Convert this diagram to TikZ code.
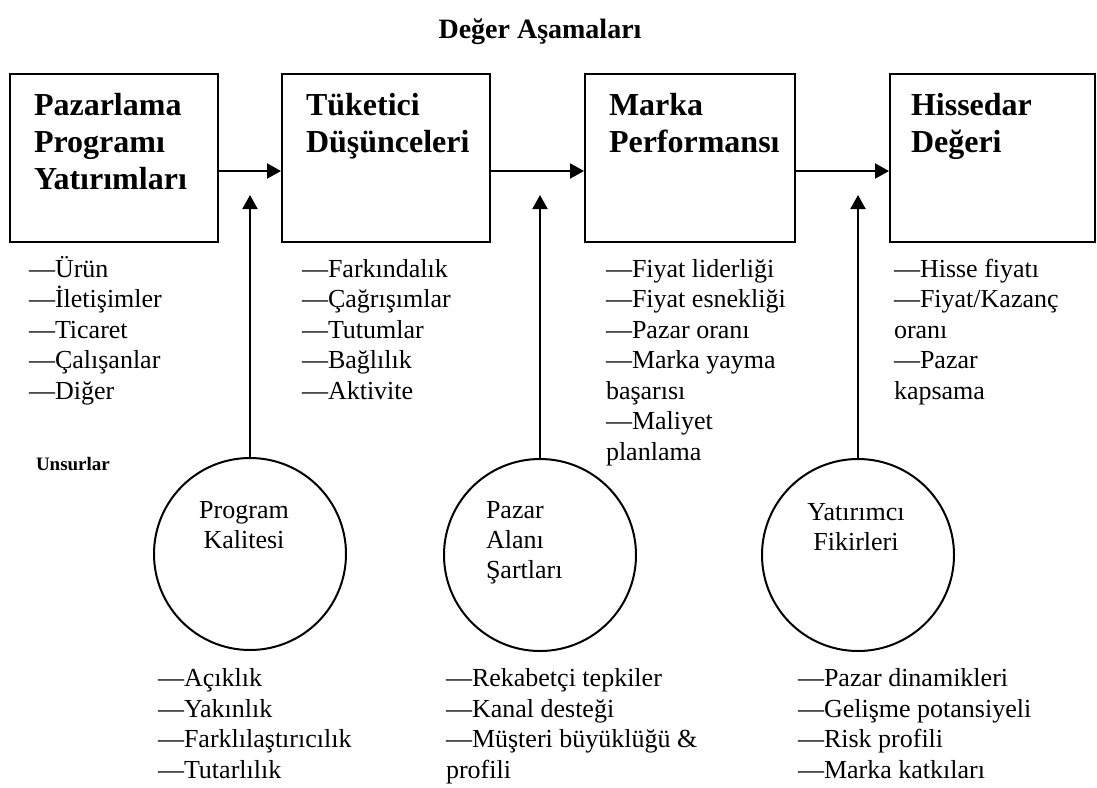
\documentclass[tikz,border=0pt]{standalone}
\usepackage{fontspec}
\setmainfont{Liberation Serif}
\usetikzlibrary{arrows.meta}
\begin{document}
\begin{tikzpicture}[x=0.5pt, y=-0.5pt, line width=1pt, >={Triangle[length=7pt,width=7.5pt]},
    stage/.style={draw, minimum width=#1, minimum height=84pt, inner sep=0pt},
    stagename/.style={anchor=base west, align=left, inner sep=0pt, font=\fontsize{16}{18.5}\selectfont\bfseries},
    items/.style={anchor=base west, align=left, inner sep=0pt, font=\fontsize{13}{15.25}\selectfont},
    factor/.style={draw, circle, minimum size=96pt, inner sep=0pt},
    factorname/.style={anchor=base, align=center, inner sep=0pt, font=\fontsize{13}{15}\selectfont}]
    \useasboundingbox (0,0) rectangle (1097,787);
    \node[anchor=base, inner sep=0pt, font=\fontsize{14}{16}\selectfont\bfseries] (title) at (540,38) {Değer Aşamaları};
    \node[stage=104pt] (ppy) at (114,158) {};
    \node[stage=104pt] (td) at (386,158) {};
    \node[stage=105pt] (mp) at (690,158) {};
    \node[stage=102.5pt] (hd) at (992.5,158) {};
    \node[stagename] (ppyname) at (33,189) {Pazarlama\\Programı\\Yatırımları};
    \node[stagename] (tdname) at (305,152) {Tüketici\\Düşünceleri};
    \node[stagename] (mpname) at (608,152) {Marka\\Performansı};
    \node[stagename] (hdname) at (910,152) {Hissedar\\Değeri};
    \draw[->] ([yshift=-6.5pt]ppy.east) -- ([yshift=-6.5pt]td.west);
    \draw[->] ([yshift=-6.5pt]td.east) -- ([yshift=-6.5pt]mp.west);
    \draw[->] ([yshift=-6.5pt]mp.east) -- ([yshift=-6.5pt]hd.west);
    \node[items] (ppyitems) at (28,399) {—Ürün\\—İletişimler\\—Ticaret\\—Çalışanlar\\—Diğer};
    \node[items] (tditems) at (301,399) {—Farkındalık\\—Çağrışımlar\\—Tutumlar\\—Bağlılık\\—Aktivite};
    \node[items] (mpitems) at (605,460) {—Fiyat liderliği\\—Fiyat esnekliği\\—Pazar oranı\\—Marka yayma\\başarısı\\—Maliyet\\planlama};
    \node[items] (hditems) at (893,399) {—Hisse fiyatı\\—Fiyat/Kazanç\\oranı\\—Pazar\\kapsama};
    \node[anchor=base west, inner sep=0pt, font=\fontsize{9.5}{11}\selectfont\bfseries] (unsurlar) at (35,470) {Unsurlar};
    \node[factor] (pk) at (250,554) {};
    \node[factor] (pas) at (540,555) {};
    \node[factor] (yf) at (858,555) {};
    \node[factorname] (pkname) at (244,548) {Program\\Kalitesi};
    \node[factorname, anchor=base west, align=left] (pasname) at (485,578) {Pazar\\Alanı\\Şartları};
    \node[factorname] (yfname) at (856,550) {Yatırımcı\\Fikirleri};
    \coordinate (pktip) at (250,195);
    \coordinate (pastip) at (540,195);
    \coordinate (yftip) at (858,195);
    \draw[->] (pk.north) -- (pktip);
    \draw[->] (pas.north) -- (pastip);
    \draw[->] (yf.north) -- (yftip);
    \node[items] (pkitems) at (157,778) {—Açıklık\\—Yakınlık\\—Farklılaştırıcılık\\—Tutarlılık};
    \node[items] (pasitems) at (445,778) {—Rekabetçi tepkiler\\—Kanal desteği\\—Müşteri büyüklüğü \&\\profili};
    \node[items] (yfitems) at (797,778) {—Pazar dinamikleri\\—Gelişme potansiyeli\\—Risk profili\\—Marka katkıları};
\end{tikzpicture}
\end{document}
